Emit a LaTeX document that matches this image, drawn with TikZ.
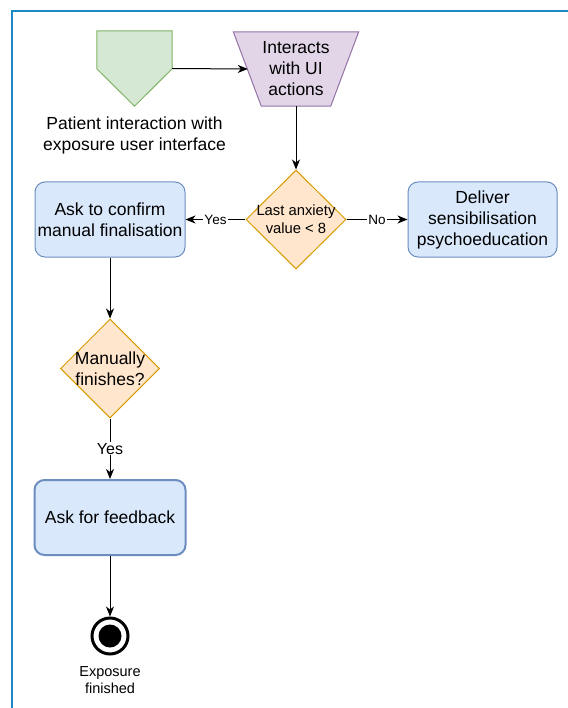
\documentclass[tikz,border=0pt]{standalone}
\usepackage{fontspec}
\setmainfont{Liberation Sans}
\usetikzlibrary{shapes.geometric,arrows.meta,calc}
\definecolor{frameblue}{HTML}{1C8AC7}
\definecolor{gfill}{HTML}{D5E8D4}
\definecolor{gline}{HTML}{82B366}
\definecolor{pfill}{HTML}{E1D5E7}
\definecolor{pline}{HTML}{9673A6}
\definecolor{ofill}{HTML}{FFE6CC}
\definecolor{oline}{HTML}{D79B00}
\definecolor{bfill}{HTML}{DAE8FC}
\definecolor{bline}{HTML}{6C8EBF}
\begin{document}
\begin{tikzpicture}[x=1pt,y=-1pt,
  txt/.style={font=\fontsize{17.5}{21}\selectfont, align=center, text=black},
  smalltxt/.style={font=\fontsize{14.8}{18}\selectfont, align=center, text=black},
  procbox/.style={txt, rectangle, rounded corners=10pt, draw=bline, fill=bfill, line width=1pt, minimum width=150pt, minimum height=75pt, inner sep=0pt},
  decision/.style={diamond, draw=oline, fill=ofill, line width=1pt, minimum width=100pt, minimum height=99pt, inner sep=0pt},
  conn/.style={draw, line width=1pt, -{Stealth[length=10pt,width=8pt,inset=3pt]}},
  edgelbl/.style={fill=white, inner sep=1pt, text=black, font=\fontsize{13.5}{16}\selectfont},
]
\useasboundingbox (0,0) rectangle (567,708);
\fill[white] (0,0) rectangle (567,708);
% frame
\draw[frameblue, line width=2.5pt] (580,11) -- (12,11) -- (12,720);

% start: off-page connector
\node[minimum width=75pt, minimum height=75pt, inner sep=0pt] (pent) at (134.5,68.5) {};
\draw[draw=gline, fill=gfill, line width=1pt]
  (pent.north west) -- (pent.north east) -- ($(pent.north east)+(0,38)$)
  -- (pent.south) -- ($(pent.north west)+(0,38)$) -- cycle;
\node[txt] (pentlbl) at (134.5,135.5) {Patient interaction with\\exposure user interface};

% manual input trapezoid
\node[minimum width=125pt, minimum height=74pt, inner sep=0pt] (trapbb) at (296,69) {};
\draw[draw=pline, fill=pfill, line width=1pt]
  (trapbb.north west) -- (trapbb.north east) -- ($(trapbb.south east)+(-28,0)$)
  -- ($(trapbb.south west)+(28,0)$) -- cycle;
\node[txt] (trap) at (296,69) {Interacts\\with UI\\actions};
\coordinate (trapin) at ($(trapbb.west)+(14.5,0)$);

% decisions and processes
\node[decision, label={[smalltxt]center:{Last anxiety\\value < 8}}] (d1) at (296,219.5) {};
\node[procbox] (box1) at (110,219.5) {Ask to confirm\\manual finalisation};
\node[procbox, minimum width=149pt] (box2) at (482.5,219.5) {Deliver\\sensibilisation\\psychoeducation};
\node[decision, minimum width=99pt, label={[txt]center:{Manually\\finishes?}}] (d2) at (110,368.5) {};
\node[procbox, line width=2pt, minimum width=151pt] (box3) at (110,517.5) {Ask for feedback};

% end
\node[circle, draw=black, fill=white, line width=3pt, minimum size=36pt, inner sep=0pt,
      path picture={\fill[black] (path picture bounding box.center) circle (11.5pt);}] (endn) at (110,636) {};
\node[font=\fontsize{14.5}{17}\selectfont, align=center] (endlbl) at (110,680.5) {Exposure\\finished};

% connectors
\draw[conn] (pent.east) -- (trapin);
\draw[conn] (trapbb.south) -- (d1);
\draw[conn] (d1) -- node[edgelbl]{Yes} (box1);
\draw[conn] (d1) -- node[edgelbl]{No} (box2);
\draw[conn] (box1) -- (d2);
\draw[conn] (d2) -- node[edgelbl, font=\fontsize{16}{19}\selectfont]{Yes} (box3);
\draw[conn] (box3) -- (endn);
\end{tikzpicture}
\end{document}
